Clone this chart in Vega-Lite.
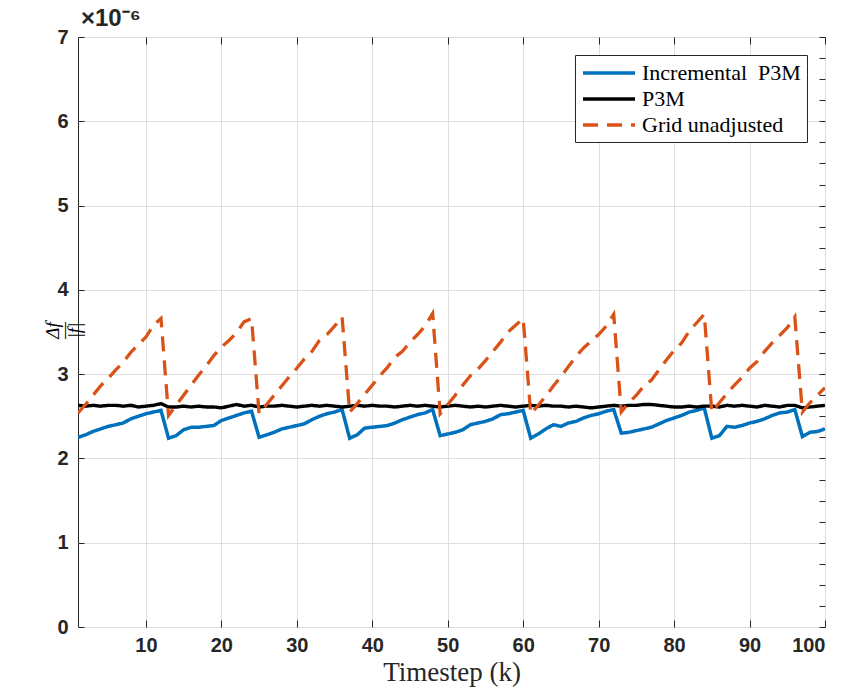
{
  "$schema": "https://vega.github.io/schema/vega-lite/v6.json",
  "width": 747,
  "height": 590,
  "autosize": "none",
  "padding": {"left": 78, "top": 37, "right": 23, "bottom": 66},
  "background": "white",
  "config": {
    "view": {"stroke": "#262626", "strokeWidth": 1},
    "axis": {
      "domain": false,
      "tickColor": "#262626",
      "gridColor": "#dedede",
      "gridWidth": 1,
      "labelFont": "Liberation Sans",
      "labelFontWeight": "bold",
      "labelFontSize": 20,
      "labelColor": "#262626",
      "titleFont": "Liberation Serif",
      "titleFontWeight": "normal",
      "titleColor": "#262626"
    }
  },
  "title": {
    "text": "×10⁻⁶",
    "anchor": "start",
    "frame": "group",
    "offset": -4,
    "dx": 3,
    "font": "Liberation Sans",
    "fontSize": 24,
    "fontWeight": "bold",
    "color": "#262626"
  },
  "data": {
    "values": [
      {"k": 1, "inc": 2.25, "p3m": 2.63, "grid": 2.54},
      {"k": 2, "inc": 2.28, "p3m": 2.62, "grid": 2.64},
      {"k": 3, "inc": 2.32, "p3m": 2.63, "grid": 2.75},
      {"k": 4, "inc": 2.35, "p3m": 2.62, "grid": 2.86},
      {"k": 5, "inc": 2.38, "p3m": 2.63, "grid": 2.95},
      {"k": 6, "inc": 2.40, "p3m": 2.63, "grid": 3.05},
      {"k": 7, "inc": 2.42, "p3m": 2.62, "grid": 3.14},
      {"k": 8, "inc": 2.47, "p3m": 2.63, "grid": 3.26},
      {"k": 9, "inc": 2.50, "p3m": 2.61, "grid": 3.35},
      {"k": 10, "inc": 2.53, "p3m": 2.62, "grid": 3.44},
      {"k": 11, "inc": 2.55, "p3m": 2.63, "grid": 3.58},
      {"k": 12, "inc": 2.57, "p3m": 2.65, "grid": 3.66},
      {"k": 13, "inc": 2.24, "p3m": 2.61, "grid": 2.51},
      {"k": 14, "inc": 2.27, "p3m": 2.61, "grid": 2.63},
      {"k": 15, "inc": 2.34, "p3m": 2.62, "grid": 2.75},
      {"k": 16, "inc": 2.37, "p3m": 2.61, "grid": 2.87},
      {"k": 17, "inc": 2.37, "p3m": 2.62, "grid": 2.99},
      {"k": 18, "inc": 2.38, "p3m": 2.61, "grid": 3.10},
      {"k": 19, "inc": 2.39, "p3m": 2.61, "grid": 3.22},
      {"k": 20, "inc": 2.45, "p3m": 2.60, "grid": 3.32},
      {"k": 21, "inc": 2.48, "p3m": 2.62, "grid": 3.40},
      {"k": 22, "inc": 2.51, "p3m": 2.64, "grid": 3.49},
      {"k": 23, "inc": 2.54, "p3m": 2.62, "grid": 3.62},
      {"k": 24, "inc": 2.56, "p3m": 2.63, "grid": 3.66},
      {"k": 25, "inc": 2.25, "p3m": 2.61, "grid": 2.53},
      {"k": 26, "inc": 2.28, "p3m": 2.62, "grid": 2.64},
      {"k": 27, "inc": 2.31, "p3m": 2.62, "grid": 2.75},
      {"k": 28, "inc": 2.35, "p3m": 2.63, "grid": 2.86},
      {"k": 29, "inc": 2.37, "p3m": 2.62, "grid": 2.97},
      {"k": 30, "inc": 2.39, "p3m": 2.61, "grid": 3.07},
      {"k": 31, "inc": 2.41, "p3m": 2.62, "grid": 3.18},
      {"k": 32, "inc": 2.46, "p3m": 2.63, "grid": 3.27},
      {"k": 33, "inc": 2.50, "p3m": 2.62, "grid": 3.40},
      {"k": 34, "inc": 2.53, "p3m": 2.63, "grid": 3.47},
      {"k": 35, "inc": 2.55, "p3m": 2.62, "grid": 3.57},
      {"k": 36, "inc": 2.58, "p3m": 2.61, "grid": 3.68},
      {"k": 37, "inc": 2.24, "p3m": 2.62, "grid": 2.55},
      {"k": 38, "inc": 2.28, "p3m": 2.63, "grid": 2.65},
      {"k": 39, "inc": 2.36, "p3m": 2.62, "grid": 2.76},
      {"k": 40, "inc": 2.37, "p3m": 2.63, "grid": 2.87},
      {"k": 41, "inc": 2.38, "p3m": 2.62, "grid": 2.98},
      {"k": 42, "inc": 2.39, "p3m": 2.62, "grid": 3.08},
      {"k": 43, "inc": 2.42, "p3m": 2.61, "grid": 3.20},
      {"k": 44, "inc": 2.46, "p3m": 2.62, "grid": 3.27},
      {"k": 45, "inc": 2.49, "p3m": 2.63, "grid": 3.38},
      {"k": 46, "inc": 2.52, "p3m": 2.62, "grid": 3.47},
      {"k": 47, "inc": 2.54, "p3m": 2.63, "grid": 3.57},
      {"k": 48, "inc": 2.58, "p3m": 2.62, "grid": 3.72},
      {"k": 49, "inc": 2.27, "p3m": 2.61, "grid": 2.53},
      {"k": 50, "inc": 2.29, "p3m": 2.62, "grid": 2.64},
      {"k": 51, "inc": 2.31, "p3m": 2.63, "grid": 2.75},
      {"k": 52, "inc": 2.34, "p3m": 2.62, "grid": 2.87},
      {"k": 53, "inc": 2.40, "p3m": 2.61, "grid": 2.98},
      {"k": 54, "inc": 2.42, "p3m": 2.62, "grid": 3.06},
      {"k": 55, "inc": 2.44, "p3m": 2.61, "grid": 3.16},
      {"k": 56, "inc": 2.47, "p3m": 2.62, "grid": 3.27},
      {"k": 57, "inc": 2.52, "p3m": 2.63, "grid": 3.38},
      {"k": 58, "inc": 2.53, "p3m": 2.62, "grid": 3.50},
      {"k": 59, "inc": 2.55, "p3m": 2.61, "grid": 3.58},
      {"k": 60, "inc": 2.57, "p3m": 2.62, "grid": 3.66},
      {"k": 61, "inc": 2.24, "p3m": 2.63, "grid": 2.53},
      {"k": 62, "inc": 2.29, "p3m": 2.62, "grid": 2.63},
      {"k": 63, "inc": 2.35, "p3m": 2.63, "grid": 2.74},
      {"k": 64, "inc": 2.40, "p3m": 2.62, "grid": 2.86},
      {"k": 65, "inc": 2.38, "p3m": 2.62, "grid": 2.97},
      {"k": 66, "inc": 2.42, "p3m": 2.61, "grid": 3.09},
      {"k": 67, "inc": 2.44, "p3m": 2.62, "grid": 3.21},
      {"k": 68, "inc": 2.48, "p3m": 2.61, "grid": 3.31},
      {"k": 69, "inc": 2.51, "p3m": 2.60, "grid": 3.39},
      {"k": 70, "inc": 2.53, "p3m": 2.61, "grid": 3.47},
      {"k": 71, "inc": 2.56, "p3m": 2.62, "grid": 3.57},
      {"k": 72, "inc": 2.58, "p3m": 2.63, "grid": 3.71},
      {"k": 73, "inc": 2.30, "p3m": 2.62, "grid": 2.55},
      {"k": 74, "inc": 2.31, "p3m": 2.63, "grid": 2.66},
      {"k": 75, "inc": 2.33, "p3m": 2.63, "grid": 2.75},
      {"k": 76, "inc": 2.35, "p3m": 2.64, "grid": 2.86},
      {"k": 77, "inc": 2.37, "p3m": 2.64, "grid": 2.93},
      {"k": 78, "inc": 2.41, "p3m": 2.63, "grid": 3.05},
      {"k": 79, "inc": 2.45, "p3m": 2.62, "grid": 3.17},
      {"k": 80, "inc": 2.48, "p3m": 2.61, "grid": 3.28},
      {"k": 81, "inc": 2.51, "p3m": 2.61, "grid": 3.37},
      {"k": 82, "inc": 2.55, "p3m": 2.62, "grid": 3.51},
      {"k": 83, "inc": 2.57, "p3m": 2.61, "grid": 3.61},
      {"k": 84, "inc": 2.60, "p3m": 2.62, "grid": 3.71},
      {"k": 85, "inc": 2.24, "p3m": 2.62, "grid": 2.55},
      {"k": 86, "inc": 2.27, "p3m": 2.61, "grid": 2.66},
      {"k": 87, "inc": 2.38, "p3m": 2.63, "grid": 2.77},
      {"k": 88, "inc": 2.37, "p3m": 2.62, "grid": 2.87},
      {"k": 89, "inc": 2.39, "p3m": 2.63, "grid": 2.96},
      {"k": 90, "inc": 2.42, "p3m": 2.62, "grid": 3.07},
      {"k": 91, "inc": 2.44, "p3m": 2.61, "grid": 3.15},
      {"k": 92, "inc": 2.47, "p3m": 2.63, "grid": 3.27},
      {"k": 93, "inc": 2.51, "p3m": 2.62, "grid": 3.37},
      {"k": 94, "inc": 2.54, "p3m": 2.61, "grid": 3.46},
      {"k": 95, "inc": 2.55, "p3m": 2.63, "grid": 3.55},
      {"k": 96, "inc": 2.58, "p3m": 2.63, "grid": 3.68},
      {"k": 97, "inc": 2.26, "p3m": 2.60, "grid": 2.55},
      {"k": 98, "inc": 2.31, "p3m": 2.61, "grid": 2.66},
      {"k": 99, "inc": 2.32, "p3m": 2.62, "grid": 2.75},
      {"k": 100, "inc": 2.35, "p3m": 2.63, "grid": 2.84}
    ]
  },
  "transform": [{"fold": ["inc", "p3m", "grid"], "as": ["series", "value"]}],
  "layer": [
    {
      "mark": {"type": "line", "clip": true},
      "encoding": {
        "x": {
          "field": "k", "type": "quantitative",
          "scale": {"domain": [1, 100], "nice": false, "zero": false},
          "axis": {
            "values": [10, 20, 30, 40, 50, 60, 70, 80, 90, 100],
            "grid": true,
            "tickSize": -7,
            "labelPadding": 15,
            "title": "Timestep (k)",
            "titleFontSize": 27,
            "titlePadding": 4
          }
        },
        "y": {
          "field": "value", "type": "quantitative",
          "scale": {"domain": [0, 7], "nice": false},
          "axis": {
            "values": [0, 0.25, 0.5, 0.75, 1, 1.25, 1.5, 1.75, 2, 2.25, 2.5, 2.75, 3, 3.25, 3.5, 3.75, 4, 4.25, 4.5, 4.75, 5, 5.25, 5.5, 5.75, 6, 6.25, 6.5, 6.75, 7],
            "format": "d",
            "labelExpr": "datum.value % 1 === 0 ? format(datum.value, 'd') : ''",
            "grid": true,
            "gridOpacity": {"condition": {"test": "datum.value % 1 === 0", "value": 1}, "value": 0},
            "tickSize": -6,
            "labelPadding": 16,
            "title": ["Δf", "—", "|f|"],
            "titleFontSize": 19,
            "titleFontStyle": "italic",
            "titleLineHeight": 11,
            "titleColor": "#000000",
            "titleX": -26,
            "titleY": 293,
            "titleAngle": 270,
            "titleAlign": "center",
            "titleBaseline": "middle"
          }
        },
        "color": {
          "field": "series", "type": "nominal",
          "scale": {"domain": ["inc", "p3m", "grid"], "range": ["#0072BD", "#000000", "#D95319"]},
          "legend": {
            "orient": "top-right",
            "offset": 18,
            "title": null,
            "labelExpr": "{'inc': 'Incremental\u00a0 P3M', 'p3m': 'P3M', 'grid': 'Grid unadjusted'}[datum.label]",
            "labelFont": "Liberation Serif",
            "labelFontSize": 22,
            "labelColor": "#000000",
            "labelLimit": 300,
            "labelOffset": 21,
            "symbolType": "M-2.6,0H2.6",
            "symbolSize": 400,
            "symbolOffset": 16,
            "symbolStrokeWidth": 3,
            "fillColor": "white",
            "strokeColor": "#262626",
            "padding": 6,
            "rowPadding": 3
          }
        },
        "strokeDash": {
          "field": "series", "type": "nominal",
          "scale": {"domain": ["inc", "p3m", "grid"], "range": [[1, 0], [1, 0], [15, 9]]}
        },
        "strokeWidth": {
          "field": "series", "type": "nominal",
          "scale": {"domain": ["inc", "p3m", "grid"], "range": [3.5, 3.3, 2.5]}
        }
      }
    },
    {
      "mark": {"type": "line", "opacity": 0},
      "encoding": {
        "x": {
          "field": "k", "type": "quantitative",
          "axis": {"orient": "top", "values": [10, 20, 30, 40, 50, 60, 70, 80, 90, 100], "labels": false, "grid": false, "tickSize": -7, "title": null}
        },
        "y": {
          "field": "value", "type": "quantitative",
          "axis": {"orient": "right", "values": [0, 0.25, 0.5, 0.75, 1, 1.25, 1.5, 1.75, 2, 2.25, 2.5, 2.75, 3, 3.25, 3.5, 3.75, 4, 4.25, 4.5, 4.75, 5, 5.25, 5.5, 5.75, 6, 6.25, 6.5, 6.75, 7], "labels": false, "grid": false, "tickSize": -6, "title": null}
        }
      }
    }
  ],
  "resolve": {"axis": {"x": "independent", "y": "independent"}}
}
